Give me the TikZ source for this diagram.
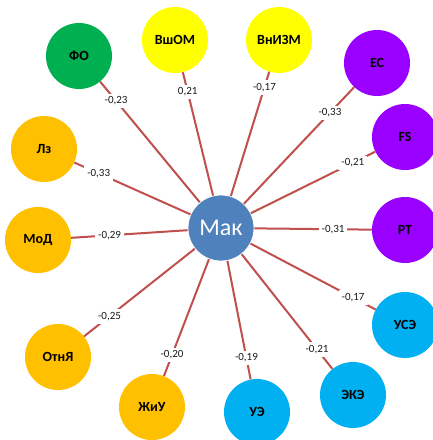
\documentclass[tikz,border=0pt]{standalone}
\usepackage{fontspec}
\setmainfont{Carlito}
\definecolor{cgreen}{HTML}{00B050}
\definecolor{cyellow}{HTML}{FFFF00}
\definecolor{cpurple}{HTML}{9900FF}
\definecolor{corange}{HTML}{FFC000}
\definecolor{cblue}{HTML}{00B0F0}
\definecolor{cmak}{HTML}{4F81BD}
\definecolor{cline}{HTML}{C0504D}
\tikzset{
  factor/.style={circle, minimum size=66pt, inner sep=0pt, font=\fontsize{14}{14}\selectfont\bfseries, text=black},
  hub/.style={circle, minimum size=66pt, inner sep=0pt, fill=cmak, draw=white, line width=0.8pt, text=white, font=\fontsize{24}{24}\selectfont},
  link/.style={draw=cline, line width=2pt},
  val/.style={fill=white, inner sep=3pt, font=\fontsize{11}{11}\selectfont, text=black!90}
}
\begin{document}
\begin{tikzpicture}[x=1pt, y=-1pt]
\useasboundingbox[fill=white] (0,0) rectangle (432,440);
\node[hub] (mak) at (221,228) {Мак};
\node[factor, fill=cgreen] (fo) at (79,56) {ФО};
\node[factor, fill=cyellow] (vshom) at (175,40) {ВшОМ};
\node[factor, fill=cyellow] (vnizm) at (279,40) {ВнИЗМ};
\node[factor, fill=cpurple] (es) at (377,63) {ЕС};
\node[factor, fill=cpurple] (fs) at (405,137) {FS};
\node[factor, fill=cpurple] (rt) at (405,230) {РТ};
\node[factor, fill=cblue] (use) at (405,325) {УСЭ};
\node[factor, fill=cblue] (eke) at (353,395) {ЭКЭ};
\node[factor, fill=cblue] (ue) at (257,412) {УЭ};
\node[factor, fill=corange] (ziu) at (152,407) {ЖиУ};
\node[factor, fill=corange] (otn) at (58,357) {ОтнЯ};
\node[factor, fill=corange] (mod) at (38,240) {МоД};
\node[factor, fill=corange] (lz) at (44,149) {Лз};
\draw[link] (mak) -- (fo) node[val, pos=0.84] {-0,23};
\draw[link] (mak) -- (vshom) node[val, pos=0.84] {0,21};
\draw[link] (mak) -- (vnizm) node[val, pos=0.875] {-0,17};
\draw[link] (mak) -- (es) node[val, pos=0.78] {-0,33};
\draw[link] (mak) -- (fs) node[val, pos=0.82] {-0,21};
\draw[link] (mak) -- (rt) node[val, pos=0.67] {-0,31};
\draw[link] (mak) -- (use) node[val, pos=0.82] {-0,17};
\draw[link] (mak) -- (eke) node[val, pos=0.83] {-0,21};
\draw[link] (mak) -- (ue) node[val, pos=0.82] {-0,19};
\draw[link] (mak) -- (ziu) node[val, pos=0.82] {-0,20};
\draw[link] (mak) -- (otn) node[val, pos=0.77] {-0,25};
\draw[link] (mak) -- (mod) node[val, pos=0.67] {-0,29};
\draw[link] (mak) -- (lz) node[val, pos=0.79] {-0,33};
\end{tikzpicture}
\end{document}
